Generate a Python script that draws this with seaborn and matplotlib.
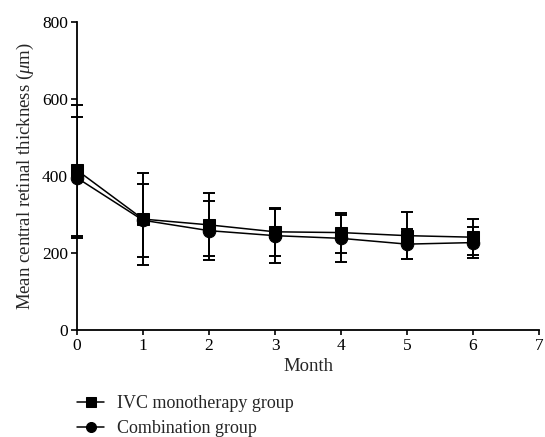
import pandas as pd
import numpy as np
import matplotlib.pyplot as plt
import seaborn as sns

sns.set_style("ticks")
plt.rcParams["font.family"] = ["Liberation Serif", "DejaVu Serif"]
plt.rcParams["mathtext.fontset"] = "custom"
plt.rcParams["mathtext.it"] = "Liberation Serif:italic"
plt.rcParams["mathtext.rm"] = "Liberation Serif"

# %%
# Data

months = [0, 1, 2, 3, 4, 5, 6]
ivc_mean = [415, 288, 273, 255, 253, 245, 241]
ivc_sd = [170, 120, 82, 63, 52, 61, 46]
combo_mean = [395, 285, 258, 245, 238, 223, 227]
combo_sd = [157, 95, 76, 70, 61, 38, 40]

groups = ["IVC monotherapy group", "Combination group"]

df = pd.DataFrame({
    "Month": months * 2,
    "CRT": ivc_mean + combo_mean,
    "SD": ivc_sd + combo_sd,
    "Group": [groups[0]] * len(months) + [groups[1]] * len(months),
})

# %%
# Plot

fig = plt.figure(figsize=(5.45, 4.37), dpi=100)
ax = fig.add_axes([0.1413, 0.2449, 0.8477, 0.7048])

for g in groups:
    sub = df[df["Group"] == g]
    ax.errorbar(sub["Month"], sub["CRT"], yerr=sub["SD"], fmt="none",
                ecolor="black", elinewidth=1.4, capsize=4.5, capthick=1.4, zorder=2)

sns.lineplot(data=df, x="Month", y="CRT", style="Group", style_order=groups,
             markers={groups[0]: "s", groups[1]: "o"}, dashes=False,
             color="black", linewidth=1.1, markersize=9,
             markeredgecolor="black", ax=ax, zorder=3)

ax.set_xlim(0, 7)
ax.set_ylim(0, 800)
ax.set_xticks(range(0, 8))
ax.set_yticks(range(0, 801, 200))
ax.set_xlabel("Month", fontsize=13.5, labelpad=3)
ax.set_ylabel(r"Mean central retinal thickness ($\mu$m)", fontsize=13.5, labelpad=4)
ax.tick_params(axis="y", direction="out", length=4.5, width=1.2, labelsize=12.5, colors="black", pad=2)
ax.tick_params(axis="x", direction="out", length=3.5, width=1.2, labelsize=12.5, colors="black", pad=2)
for s in ["left", "bottom"]:
    ax.spines[s].set_linewidth(1.3)
    ax.spines[s].set_color("black")
sns.despine(ax=ax)
ax.spines["left"].set_clip_on(False)
ax.spines["bottom"].set_clip_on(False)
for ln in ax.lines:
    ln.set_clip_on(False)

ax.legend(loc="upper left", bbox_to_anchor=(0.128, 0.113), bbox_transform=fig.transFigure,
          frameon=False, fontsize=13, handlelength=1.5, handletextpad=0.72,
          labelspacing=0.46, borderaxespad=0, markerscale=0.8)

fig.savefig("out.png", dpi=100)
